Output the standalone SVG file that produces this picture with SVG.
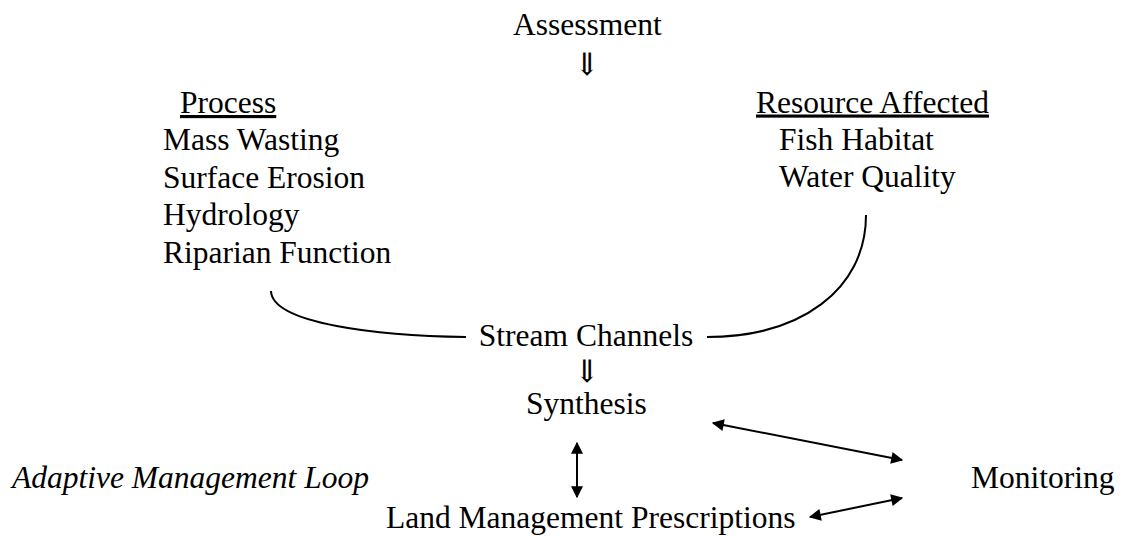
<svg xmlns="http://www.w3.org/2000/svg" width="1121" height="536" viewBox="0 0 1121 536">
<style>
text{font-family:"Liberation Serif","Times New Roman",serif;font-size:31.5px;fill:#000}
.sym{font-family:"DejaVu Serif","Liberation Serif",serif;font-size:31px}
.it{font-style:italic}
.u{text-decoration:underline}
.c{fill:none;stroke:#000;stroke-width:2}
</style>
<defs>
<marker id="ah" viewBox="0 0 10 10" refX="9" refY="5" markerWidth="8" markerHeight="6" markerUnits="strokeWidth" orient="auto-start-reverse">
<path d="M0,0 L10,5 L0,10 z" fill="#000"/>
</marker>
</defs>
<rect width="1121" height="536" fill="#fff"/>
<g id="assessment"><text x="513" y="35">Assessment</text></g>
<g id="arrow1"><text class="sym" x="587" y="75" text-anchor="middle">⇓</text></g>
<g id="process">
<text class="u" x="180" y="113">Process</text>
<text x="163" y="150">Mass Wasting</text>
<text x="163" y="187.5">Surface Erosion</text>
<text x="163" y="225">Hydrology</text>
<text x="163" y="262.5">Riparian Function</text>
</g>
<g id="resource">
<text class="u" x="756" y="112.5">Resource Affected</text>
<text x="779" y="150">Fish Habitat</text>
<text x="779" y="187">Water Quality</text>
</g>
<g id="stream"><text x="586" y="346" text-anchor="middle">Stream Channels</text></g>
<g id="arrow2"><text class="sym" x="587" y="382" text-anchor="middle">⇓</text></g>
<g id="synthesis"><text x="526" y="414">Synthesis</text></g>
<g id="adaptive"><text class="it" x="12" y="488">Adaptive Management Loop</text></g>
<g id="monitoring"><text x="971" y="488">Monitoring</text></g>
<g id="land"><text x="386" y="528">Land Management Prescriptions</text></g>
<g id="connectors">
<path class="c" d="M271,291 C272,324 380,336 466,337"/>
<path class="c" d="M866,215 C866,290 800,337 707,337"/>
<line class="c" x1="577" y1="443" x2="577" y2="497" marker-start="url(#ah)" marker-end="url(#ah)"/>
<line class="c" x1="713" y1="423" x2="902" y2="460" marker-start="url(#ah)" marker-end="url(#ah)"/>
<line class="c" x1="810" y1="517" x2="902" y2="498" marker-start="url(#ah)" marker-end="url(#ah)"/>
</g>
</svg>
